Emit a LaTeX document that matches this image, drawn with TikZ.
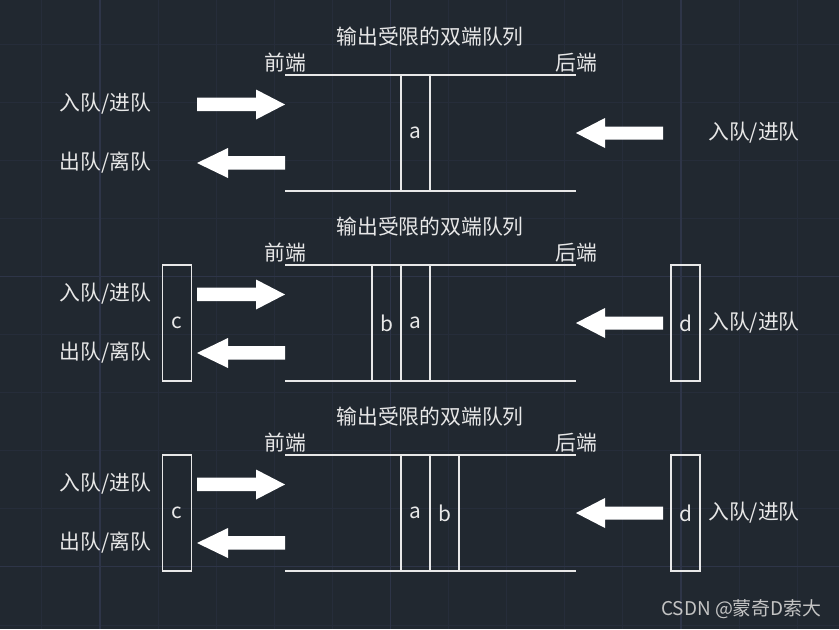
\documentclass[tikz,border=0pt]{standalone}
\usepackage{fontspec}
\setmainfont{Noto Sans CJK SC}
\newfontfamily\wmfont{Noto Sans CJK SC}
\definecolor{bg}{HTML}{212830}
\definecolor{gridc}{HTML}{262D3A}
\definecolor{gridm}{HTML}{2E3548}
\definecolor{fg}{HTML}{E8E8E8}
\definecolor{wm}{HTML}{C4C4C4}
\tikzset{
  txt/.style={text=fg, inner sep=0pt, font=\fontsize{15.6}{18}\selectfont},
  cell/.style={draw=fg, line width=1.1pt, inner sep=0pt, minimum width=21.75pt, minimum height=87pt, text=fg, font=\fontsize{15.6}{18}\selectfont},
  rail/.style={draw=fg, line width=1.1pt},
  bigarrow/.style={fill=white, draw=none}
}
\begin{document}
\begin{tikzpicture}[x=0.75pt,y=-0.75pt]
\fill[bg] (0,0) rectangle (839,629);
\useasboundingbox (0,0) rectangle (839,629);
% grid
\foreach \i in {-1,...,12} {
  \draw[gridc, line width=0.75pt] ({100+58.1*\i},0) -- ({100+58.1*\i},629);
}
\foreach \j in {-1,...,10} {
  \draw[gridc, line width=0.75pt] (0,{44+58.1*\j}) -- (839,{44+58.1*\j});
}
\foreach \i in {0,5,10} {
  \draw[gridm, line width=0.8pt] ({100+58.1*\i},0) -- ({100+58.1*\i},629);
}
\foreach \j in {4,9} {
  \draw[gridm, line width=0.8pt] (0,{44+58.1*\j}) -- (839,{44+58.1*\j});
}
% panels
\foreach \o/\n in {0/1,190/2,380/3} {
  \node[txt] (title\n) at (430,{37+\o}) {输出受限的双端队列};
  \node[txt] (front\n) at (285,{63+\o}) {前端};
  \node[txt] (rear\n) at (576,{63+\o}) {后端};
  \coordinate (tl\n) at (285,{75+\o});
  \coordinate (tr\n) at (576,{75+\o});
  \coordinate (bl\n) at (285,{191+\o});
  \coordinate (br\n) at (576,{191+\o});
  \draw[rail] (tl\n) -- (tr\n);
  \draw[rail] (bl\n) -- (br\n);
  \node[txt] (inL\n) at (105.5,{104+\o}) {入队/进队};
  \node[txt] (outL\n) at (105.5,{163+\o}) {出队/离队};
  % arrow into front
  \fill[bigarrow] (197,{97.5+\o}) -- (256,{97.5+\o}) -- (256,{89.5+\o}) -- (285,{104.5+\o})
     -- (256,{119.5+\o}) -- (256,{111+\o}) -- (197,{111+\o}) -- cycle;
  % arrow out of front
  \fill[bigarrow] (197,{163+\o}) -- (228,{148+\o}) -- (228,{156+\o}) -- (285,{156+\o})
     -- (285,{169.5+\o}) -- (228,{169.5+\o}) -- (228,{178+\o}) -- cycle;
  % arrow into rear
  \fill[bigarrow] (576,{133+\o}) -- (605,{118+\o}) -- (605,{126.5+\o}) -- (663,{126.5+\o})
     -- (663,{139.5+\o}) -- (605,{139.5+\o}) -- (605,{148+\o}) -- cycle;
}
\node[txt] (inR1) at (754,133) {入队/进队};
\node[txt] (inR2) at (754,323) {入队/进队};
\node[txt] (inR3) at (754,513) {入队/进队};
% cells panel 1
\node[cell] (a1) at (415.5,133) {a};
% panel 2
\node[cell] (b2) at (386.5,323) {b};
\node[cell] (a2) at (415.5,323) {a};
\node[cell] (c2) at (177,323) {c};
\node[cell] (d2) at (685.5,323) {d};
% panel 3
\node[cell] (a3) at (415.5,513) {a};
\node[cell] (b3) at (444.5,513) {b};
\node[cell] (c3) at (177,513) {c};
\node[cell] (d3) at (685.5,513) {d};
% watermark
\node[text=wm, inner sep=0pt, anchor=east, font=\wmfont\fontsize{14.2}{16}\selectfont] (wm) at (822,609) {CSDN @蒙奇D索大};
\end{tikzpicture}
\end{document}
